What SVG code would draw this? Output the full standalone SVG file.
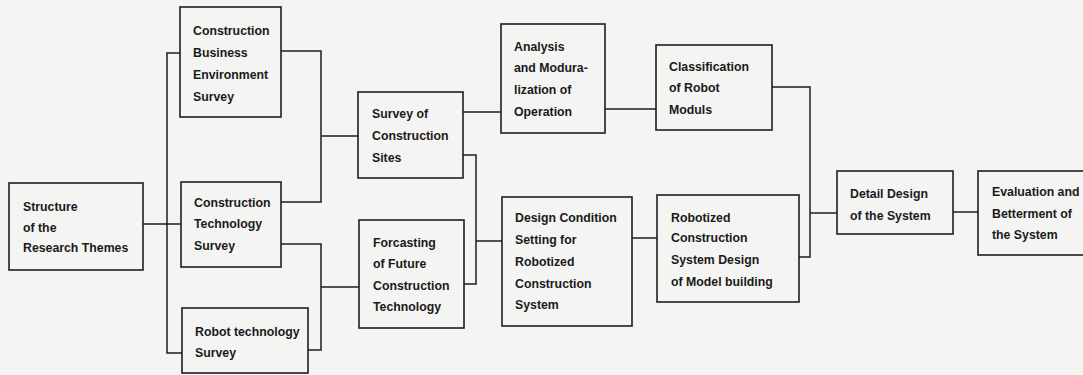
<svg xmlns="http://www.w3.org/2000/svg" width="1083" height="375" viewBox="0 0 1083 375">
<style>
.bg{fill:#f4f4f3}
.box{fill:none;stroke:#1e1e1e;stroke-width:1.6}
.ln{fill:none;stroke:#1e1e1e;stroke-width:1.5}
text{font-family:"Liberation Sans",Arial,sans-serif;font-weight:bold;font-size:12.3px;fill:#1a1a1a}
</style>
<rect class="bg" x="0" y="0" width="1083" height="375"/>
<g id="connectors">
<polyline class="ln" points="180,53 167,53 167,353 182,353"/>
<line class="ln" x1="143" y1="224" x2="181" y2="224"/>
<polyline class="ln" points="281,51 321,51 321,202 281,202"/>
<line class="ln" x1="321" y1="136" x2="358" y2="136"/>
<polyline class="ln" points="281,244 321,244 321,350 308,350"/>
<line class="ln" x1="321" y1="287" x2="359" y2="287"/>
<line class="ln" x1="463" y1="112" x2="501" y2="112"/>
<polyline class="ln" points="463,155 476,155 476,284 464,284"/>
<line class="ln" x1="476" y1="241" x2="502" y2="241"/>
<line class="ln" x1="605" y1="109" x2="656" y2="109"/>
<line class="ln" x1="632" y1="238" x2="657" y2="238"/>
<polyline class="ln" points="772,87 810,87 810,257 799,257"/>
<line class="ln" x1="810" y1="213" x2="837" y2="213"/>
<line class="ln" x1="953" y1="212" x2="978" y2="212"/>
</g>
<g id="structure">
<rect class="box" x="9" y="183" width="134" height="87"/>
<text x="23" y="211">Structure</text>
<text x="23" y="232">of the</text>
<text x="23" y="252">Research Themes</text>
</g>
<g id="business">
<rect class="box" x="180" y="7" width="101" height="110"/>
<text x="193" y="35">Construction</text>
<text x="193" y="57">Business</text>
<text x="193" y="79">Environment</text>
<text x="193" y="101">Survey</text>
</g>
<g id="techsurvey">
<rect class="box" x="181" y="182" width="100" height="85"/>
<text x="194" y="207">Construction</text>
<text x="194" y="228">Technology</text>
<text x="194" y="250">Survey</text>
</g>
<g id="robotsurvey">
<rect class="box" x="182" y="308" width="126" height="65"/>
<text x="195" y="336">Robot technology</text>
<text x="195" y="357">Survey</text>
</g>
<g id="sites">
<rect class="box" x="358" y="92" width="105" height="86"/>
<text x="372" y="118">Survey of</text>
<text x="372" y="140">Construction</text>
<text x="372" y="162">Sites</text>
</g>
<g id="forcasting">
<rect class="box" x="359" y="220" width="105" height="108"/>
<text x="373" y="247">Forcasting</text>
<text x="373" y="268">of Future</text>
<text x="373" y="290">Construction</text>
<text x="373" y="311">Technology</text>
</g>
<g id="analysis">
<rect class="box" x="501" y="24" width="104" height="109"/>
<text x="514" y="51">Analysis</text>
<text x="514" y="72">and Modura-</text>
<text x="514" y="94">lization of</text>
<text x="514" y="116">Operation</text>
</g>
<g id="designcond">
<rect class="box" x="502" y="197" width="130" height="129"/>
<text x="515" y="222">Design Condition</text>
<text x="515" y="244">Setting for</text>
<text x="515" y="266">Robotized</text>
<text x="515" y="288">Construction</text>
<text x="515" y="309">System</text>
</g>
<g id="classification">
<rect class="box" x="656" y="45" width="116" height="85"/>
<text x="669" y="71">Classification</text>
<text x="669" y="92">of Robot</text>
<text x="669" y="114">Moduls</text>
</g>
<g id="robotized">
<rect class="box" x="657" y="195" width="142" height="107"/>
<text x="671" y="222">Robotized</text>
<text x="671" y="242">Construction</text>
<text x="671" y="264">System Design</text>
<text x="671" y="286">of Model building</text>
</g>
<g id="detail">
<rect class="box" x="837" y="171" width="116" height="63"/>
<text x="850" y="198">Detail Design</text>
<text x="850" y="220">of the System</text>
</g>
<g id="evaluation">
<rect class="box" x="978" y="171" width="120" height="84"/>
<text x="992" y="196">Evaluation and</text>
<text x="992" y="218">Betterment of</text>
<text x="992" y="239">the System</text>
</g>
</svg>
